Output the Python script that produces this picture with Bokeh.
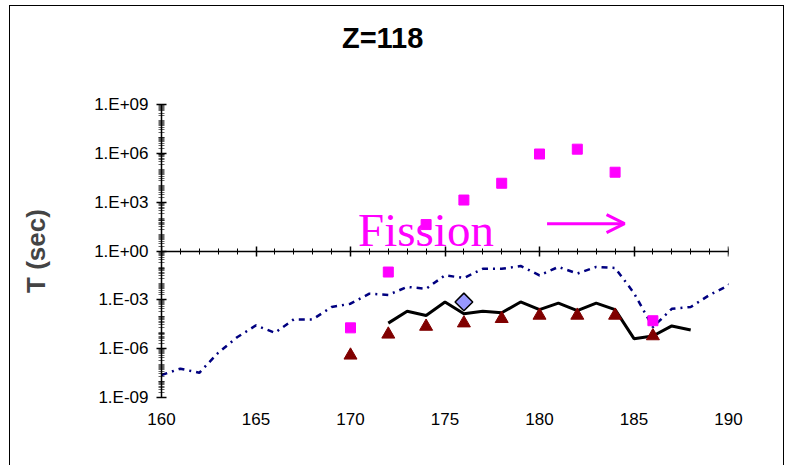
from bokeh.plotting import figure
from bokeh.layouts import column
from bokeh.models import (Range1d, FixedTicker, LinearAxis, CustomJSTickFormatter,
                          Label, Arrow, OpenHead)
from bokeh.embed import file_html
from bokeh.resources import INLINE

# ---- data -------------------------------------------------------------
# dash-dot (navy) curve
x_blue = [160, 161, 162, 163, 164, 165, 166, 167, 168, 169, 170, 171, 172, 173,
          174, 175, 176, 177, 178, 179, 180, 181, 182, 183, 184, 185, 186, 187,
          188, 189, 190, 191]
t_blue = [2.4e-8, 5.9e-8, 3.3e-8, 5.6e-7, 5.0e-6, 2.7e-5, 9.5e-6, 6.3e-5, 6.3e-5,
          3.6e-4, 5.8e-4, 2.4e-3, 2.0e-3, 6.2e-3, 4.8e-3, 3.2e-2, 2.2e-2, 8.1e-2,
          8.1e-2, 0.12, 3.2e-2, 0.105, 4.1e-2, 0.105, 9.1e-2, 2.6e-3, 2.1e-5,
          2.8e-4, 3.6e-4, 2.0e-3, 7.8e-3, 0.5]

# black solid curve
x_black = [172, 173, 174, 175, 176, 177, 178, 179, 180, 181, 182, 183, 184, 185,
           186, 187, 188]
t_black = [3.7e-5, 2.0e-4, 1.1e-4, 7.4e-4, 1.4e-4, 2.0e-4, 1.6e-4, 7.4e-4, 2.5e-4,
           6.3e-4, 2.2e-4, 6.3e-4, 2.5e-4, 4.1e-6, 6.0e-6, 2.5e-5, 1.4e-5]

# dark red triangles
x_tri = [170, 172, 174, 176, 178, 180, 182, 184, 186]
t_tri = [3.9e-7, 7.6e-6, 2.3e-5, 3.7e-5, 6.9e-5, 1.1e-4, 1.1e-4, 1.1e-4, 6.0e-6]

# magenta squares (fission)
x_sq = [170, 172, 174, 176, 178, 180, 182, 184, 186]
t_sq = [1.9e-5, 5.1e-2, 42.0, 1.35e3, 1.45e4, 9.1e5, 1.8e6, 6.9e4, 5.2e-5]

# experimental diamond
x_dia = [176]
t_dia = [7.4e-4]

x_major = [160, 165, 170, 175, 180, 185, 190]
x_minor = list(range(160, 191))
y_major = [1e-9, 1e-6, 1e-3, 1e0, 1e3, 1e6, 1e9]
y_minor = [m * 10.0 ** k for k in range(-9, 9) for m in range(1, 10)]

FONT = "Liberation Sans"

# ---- title strip --------------------------------------------------------
t = figure(width=773, height=60, x_range=Range1d(160, 190), y_range=Range1d(0, 1),
           output_backend="svg", toolbar_location=None,
           x_axis_location=None, y_axis_location=None,
           min_border_left=151, min_border_right=55,
           min_border_top=0, min_border_bottom=0)
t.outline_line_color = None
t.xgrid.visible = False
t.ygrid.visible = False
t.border_fill_color = "white"
t.add_layout(Label(x=171.7, y=0.48, text="Z=118", text_font=FONT,
                   text_font_size="29px", text_font_style="bold",
                   text_color="black", text_align="center",
                   text_baseline="middle"))

# ---- main figure ----------------------------------------------------------
p = figure(width=773, height=400, x_range=Range1d(160, 190),
           y_range=Range1d(1e-9, 1e9), y_axis_type="log",
           output_backend="svg", toolbar_location=None,
           min_border_left=151, min_border_right=55,
           min_border_top=38, min_border_bottom=69)
p.outline_line_color = None
p.xgrid.visible = False
p.ygrid.visible = False
p.background_fill_color = "white"
p.border_fill_color = "white"

# bottom axis: labels only
xb = p.xaxis[0]
xb.ticker = FixedTicker(ticks=x_major)
xb.axis_line_color = None
xb.major_tick_line_color = None
xb.minor_tick_line_color = None
xb.major_tick_out = 0
xb.major_tick_in = 0
xb.major_label_standoff = 15
xb.major_label_text_font = FONT
xb.major_label_text_font_size = "17px"
xb.major_label_text_color = "black"

# axis line at T = 1 s (no labels of its own)
xa = LinearAxis(fixed_location=1.0,
                ticker=FixedTicker(ticks=x_major, minor_ticks=x_minor),
                formatter=CustomJSTickFormatter(code="return '';"),
                major_tick_in=5, major_tick_out=5, minor_tick_in=3, minor_tick_out=3,
                major_label_standoff=0,
                axis_line_width=1.5, major_tick_line_width=1.5,
                minor_tick_line_width=1)
p.add_layout(xa, "above")

# y axis
ya = p.yaxis[0]
ya.ticker = FixedTicker(ticks=y_major, minor_ticks=y_minor)
ya.formatter = CustomJSTickFormatter(code="""
const e = Math.round(Math.log10(tick));
const s = Math.abs(e).toString().padStart(2, '0');
return '1.E' + (e < 0 ? '-' : '+') + s;
""")
ya.major_tick_in = 5
ya.major_tick_out = 5
ya.minor_tick_in = 3
ya.minor_tick_out = 3
ya.axis_line_width = 1.5
ya.major_tick_line_width = 1.5
ya.minor_tick_line_width = 0.6
ya.major_label_standoff = 8
ya.major_label_text_font = FONT
ya.major_label_text_font_size = "17px"
ya.major_label_text_color = "black"
ya.axis_label = "T (sec)"
ya.axis_label_text_font = FONT
ya.axis_label_text_font_size = "26px"
ya.axis_label_text_font_style = "bold"
ya.axis_label_standoff = 40

# ---- glyphs -----------------------------------------------------------
p.line(x_blue, t_blue, line_color="#000080", line_width=2.5, line_dash="6 5 2 5")
p.line(x_black, t_black, line_color="black", line_width=3)
p.scatter(x_tri, t_tri, marker="triangle", size=13, fill_color="#800000",
          line_color="#800000")
p.scatter(x_sq, t_sq, marker="square", size=10, fill_color="#FF00FF",
          line_color="#FF00FF")
p.scatter(x_dia, t_dia, marker="square", angle=0.785398, size=12.5,
          fill_color="#9999FF", line_color="black", line_width=1.5)

# annotations
p.add_layout(Label(x=170.4, y=19.5, text="Fission", text_font="Liberation Serif",
                   text_font_size="47px", text_color="#FF00FF",
                   text_baseline="alphabetic"))
p.add_layout(Arrow(end=OpenHead(line_color="#FF00FF", line_width=3, size=18),
                   x_start=180.4, y_start=47.9, x_end=184.5, y_end=47.9,
                   line_color="#FF00FF", line_width=3))

layout = column(t, p, spacing=0, margin=(5, 0, 0, 9))
layout.styles = {"border-left": "1.5px solid black", "border-top": "1.5px solid black",
                 "border-right": "1.5px solid black"}

open("out.html", "w").write(file_html(layout, INLINE))
